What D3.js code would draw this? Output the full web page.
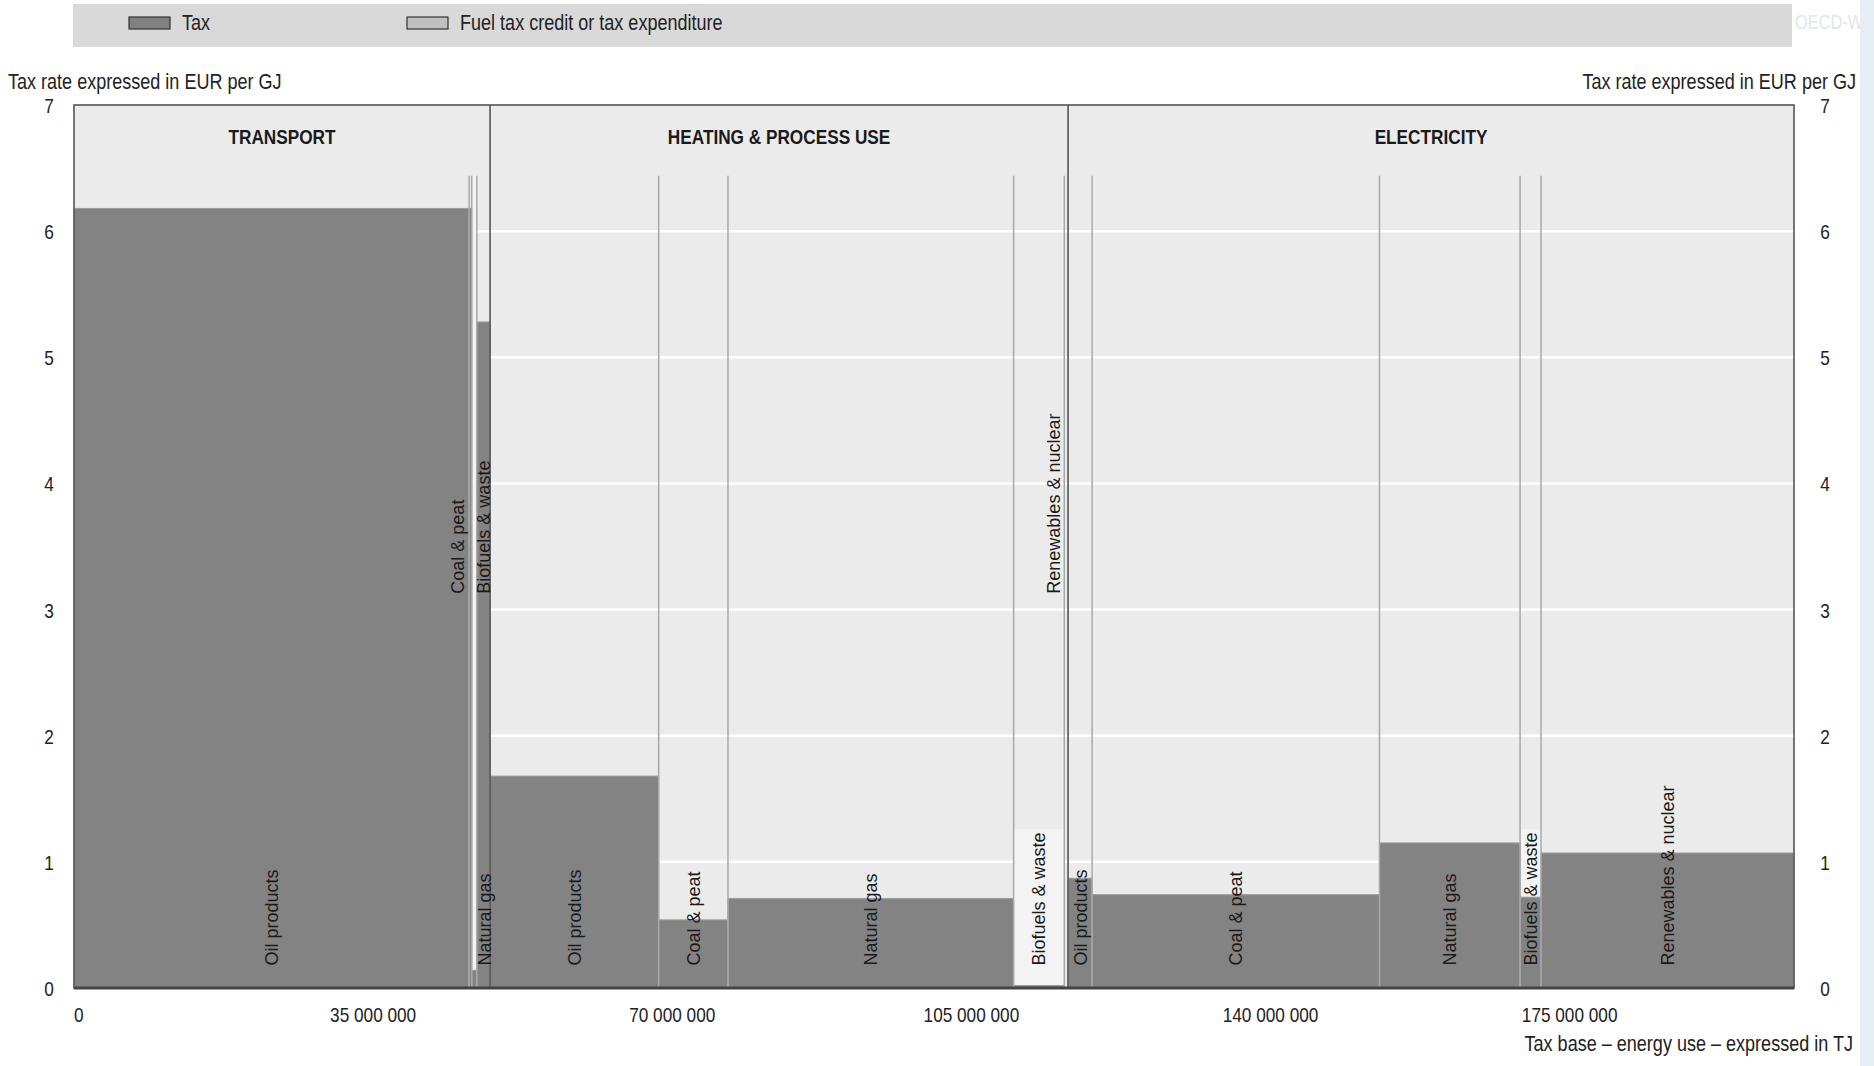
<!DOCTYPE html>
<html>
<head>
<meta charset="utf-8">
<script src="https://cdn.jsdelivr.net/npm/d3@7"></script>
<style>
  html, body { margin: 0; padding: 0; background: #ffffff; }
  svg { display: block; }
  text { font-family: "Liberation Sans", Arial, sans-serif; }
</style>
</head>
<body>
<svg id="chart" width="1874" height="1066"></svg>
<script>
// ---------------- DATA ----------------
const sectors = ["TRANSPORT", "HEATING & PROCESS USE", "ELECTRICITY"];
const fuelSector = [0, 0, 0, 0, 1, 1, 1, 1, 1, 2, 2, 2, 2, 2];
const fuelNames = [
  "Oil products", "Coal & peat", "Natural gas", "Biofuels & waste",
  "Oil products", "Coal & peat", "Natural gas", "Biofuels & waste", "Renewables & nuclear",
  "Oil products", "Coal & peat", "Natural gas", "Biofuels & waste", "Renewables & nuclear"
];
// energy use (tax base) in TJ
const energyUse = [
  46230000, 310000, 590000, 1550000,
  19730000, 8110000, 33420000, 5930000, 440000,
  2810000, 33630000, 16450000, 2450000, 29600000
];
// tax rate in EUR per GJ
const taxRate = [
  6.18, 6.18, 0.14, 5.28,
  1.68, 0.54, 0.71, 0.02, 0.0,
  0.87, 0.74, 1.15, 0.72, 1.07
];
// light label-background boxes (top value, EUR per GJ); null when none
const lightTop = [null, null, 6.44, null, null, null, null, 1.26, null, null, null, null, 1.26, null];
// label placement: level and side
const labelLevel = ["bottom", "middle", "bottom", "middle", "bottom", "bottom", "bottom", "bottom", "middle", "bottom", "bottom", "bottom", "bottom", "bottom"];
const labelSide = ["center", "left", "right", "center", "center", "center", "center", "center", "left", "center", "center", "center", "center", "center"];
const yTicks = [0, 1, 2, 3, 4, 5, 6, 7];
const xTicks = [0, 35000000, 70000000, 105000000, 140000000, 175000000];
const headerBottom = 6.44;
const legendItems = ["Tax", "Fuel tax credit or tax expenditure"];
const yTitle = "Tax rate expressed  in EUR per GJ";
const xTitle = "Tax base \u2013 energy use \u2013 expressed in TJ";

// ---------------- LAYOUT ----------------
const svg = d3.select("#chart");
const L = 74, R = 1794, T = 105, B = 988;
const NARROW = 0.82;
const total = d3.sum(energyUse);
const x = d3.scaleLinear().domain([0, total]).range([L, R]);
const y = d3.scaleLinear().domain([0, 7]).range([B, T]);

// narrow text helper (condensed look via horizontal scaling)
function ntext(parent, px, py, txt, o = {}) {
  const g = parent.append("g").attr("transform", `translate(${px},${py}) scale(${NARROW},1)`);
  const t = g.append("text")
    .attr("font-size", o.size || 22)
    .attr("text-anchor", o.anchor || "start")
    .attr("font-weight", o.weight || "normal")
    .attr("fill", o.fill || "#222")
    .text(txt);
  if (o.dy) t.attr("dy", o.dy);
  return g;
}

const cum = [];
let acc = 0;
energyUse.forEach((v, i) => { cum.push({ i, x0: acc, x1: acc + v }); acc += v; });

const sectorExt = sectors.map((s, si) => {
  const segs = cum.filter(c => fuelSector[c.i] === si);
  return { name: s, x0: segs[0].x0, x1: segs[segs.length - 1].x1 };
});

// legend band
svg.append("rect").attr("x", 73).attr("y", 4).attr("width", 1719).attr("height", 43).attr("fill", "#d9d9d9");
const legendX = [129, 407];
const legendColors = ["#808080", "#c0c0c0"];
legendItems.forEach((t, i) => {
  svg.append("rect").attr("x", legendX[i]).attr("y", 17).attr("width", 41).attr("height", 12)
    .attr("fill", legendColors[i]).attr("stroke", "#333").attr("stroke-width", 1.2);
  ntext(svg, legendX[i] + 53, 30, t, { size: 22 });
});
ntext(svg, 1795, 29, "OECD-W", { size: 20, fill: "#e1e6eb" });
svg.append("rect").attr("x", 1860).attr("y", 0).attr("width", 14).attr("height", 1066).attr("fill", "#e6edf3");

// plot background
svg.append("rect").attr("x", L).attr("y", T).attr("width", R - L).attr("height", B - T).attr("fill", "#ebebeb");

// gridlines
svg.append("g").selectAll("line").data(yTicks.filter(v => v > 0 && v < 7)).join("line")
  .attr("x1", L).attr("x2", R).attr("y1", d => y(d)).attr("y2", d => y(d))
  .attr("stroke", "#ffffff").attr("stroke-width", 2.5);

// light boxes
svg.append("g").selectAll("rect").data(cum.filter(c => lightTop[c.i] !== null)).join("rect")
  .attr("x", c => x(c.x0)).attr("width", c => x(c.x1) - x(c.x0))
  .attr("y", c => y(lightTop[c.i])).attr("height", c => y(taxRate[c.i]) - y(lightTop[c.i]))
  .attr("fill", "#f3f3f3");

// bars
svg.append("g").selectAll("rect").data(cum.filter(c => taxRate[c.i] > 0)).join("rect")
  .attr("x", c => x(c.x0)).attr("width", c => x(c.x1) - x(c.x0))
  .attr("y", c => y(taxRate[c.i])).attr("height", c => B - y(taxRate[c.i]))
  .attr("fill", "#838383").attr("stroke", "#9c9c9c").attr("stroke-width", 1);

// segment dividers (inside sectors)
const dividers = cum.filter((c, k) => k > 0 && fuelSector[c.i] === fuelSector[cum[k - 1].i]);
svg.append("g").selectAll("line").data(dividers).join("line")
  .attr("x1", c => x(c.x0)).attr("x2", c => x(c.x0))
  .attr("y1", y(headerBottom)).attr("y2", B)
  .attr("stroke", "#a8a8a8").attr("stroke-width", 1.5);

// sector dividers
svg.append("g").selectAll("line").data(sectorExt.slice(1)).join("line")
  .attr("x1", s => x(s.x0)).attr("x2", s => x(s.x0)).attr("y1", T).attr("y2", B)
  .attr("stroke", "#555").attr("stroke-width", 1.6);

// header labels
sectorExt.forEach(s => {
  ntext(svg, (x(s.x0) + x(s.x1)) / 2, 144, s.name, { size: 21, anchor: "middle", weight: "bold", fill: "#1a1a1a" });
});

// fuel labels (rotated)
svg.append("g").selectAll("text").data(cum).join("text")
  .attr("font-size", 18).attr("fill", "#1a1a1a")
  .attr("text-anchor", "start").attr("dy", "0.36em")
  .attr("transform", c => {
    const cx = (x(c.x0) + x(c.x1)) / 2 + (labelSide[c.i] === "left" ? -12.8 : labelSide[c.i] === "right" ? 10.3 : 0);
    const cy = labelLevel[c.i] === "bottom" ? y(0.178) : y(3.126);
    return `translate(${cx},${cy}) rotate(-90)`;
  })
  .text(c => fuelNames[c.i]);

// plot border
svg.append("rect").attr("x", L).attr("y", T).attr("width", R - L).attr("height", B - T)
  .attr("fill", "none").attr("stroke", "#555").attr("stroke-width", 1.6);
svg.append("line").attr("x1", L).attr("x2", R).attr("y1", B).attr("y2", B)
  .attr("stroke", "#444").attr("stroke-width", 3);

// y tick labels (both sides)
[49, 1825].forEach(px => {
  yTicks.forEach(d => ntext(svg, px, y(d), String(d), { size: 21, anchor: "middle", dy: "0.38em" }));
});

// x axis tick labels
const fmt = v => d3.format(",")(v).replace(/,/g, " ");
xTicks.forEach(d => {
  ntext(svg, x(d), 1022, fmt(d), { size: 21, anchor: d === 0 ? "start" : "middle" });
});

// axis titles
ntext(svg, 8, 89, yTitle, { size: 22 });
ntext(svg, 1856, 89, yTitle, { size: 22, anchor: "end" });
ntext(svg, 1853, 1051, xTitle, { size: 22, anchor: "end" });
</script>
</body>
</html>
